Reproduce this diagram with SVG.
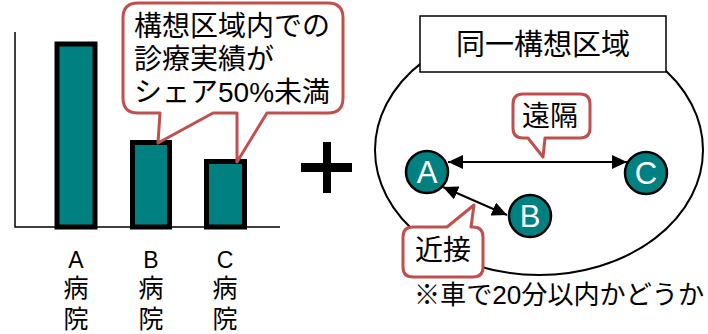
<svg xmlns="http://www.w3.org/2000/svg" width="708" height="334" viewBox="0 0 708 334">
<style>
.t{font-family:"Liberation Sans","Noto Sans CJK JP",sans-serif;fill:#000}
.bar{fill:#008080;stroke:#000;stroke-width:5}
.call{fill:#fff;stroke:#C0504D;stroke-width:3;stroke-linejoin:round}
.node{fill:#008080;stroke:#000;stroke-width:2.5}
.nl{font-family:"Liberation Sans","Noto Sans",sans-serif;fill:#fff;font-size:31px;text-anchor:middle}
.conn{stroke:#000;stroke-width:2;fill:none}
</style>
<defs>
<marker id="ah" viewBox="0 0 15 14" refX="15" refY="7" markerWidth="15" markerHeight="14" orient="auto-start-reverse" markerUnits="userSpaceOnUse"><path d="M0,0 L15,7 L0,14 Z" fill="#000"/></marker>
</defs>
<g id="chart">
<path d="M15,32 V227 H280" fill="none" stroke="#000" stroke-width="1.5"/>
<rect class="bar" x="57" y="44" width="38" height="183"/>
<rect class="bar" x="132.5" y="142.5" width="37" height="84.5"/>
<rect class="bar" x="206.5" y="161.5" width="38" height="65.5"/>
<g class="t" text-anchor="middle">
<text x="76" y="268" font-size="23">A</text>
<text x="76" y="297" font-size="25">病</text>
<text x="76" y="328" font-size="25">院</text>
<text x="151" y="268" font-size="23">B</text>
<text x="151" y="297" font-size="25">病</text>
<text x="151" y="328" font-size="25">院</text>
<text x="225" y="268" font-size="23">C</text>
<text x="225" y="297" font-size="25">病</text>
<text x="225" y="328" font-size="25">院</text>
</g>
</g>
<g id="share-callout">
<path class="call" d="M138,3 H328 Q343,3 343,18 V98 Q343,113 328,113 H267 L237,162 L237,113 H213 L158,143 L160,113 H138 Q123,113 123,98 V18 Q123,3 138,3 Z"/>
<g class="t" font-size="28">
<text x="134" y="36">構想区域内での</text>
<text x="134" y="69">診療実績が</text>
<text x="134" y="102">シェア50%未満</text>
</g>
</g>
<g id="plus">
<rect x="301" y="163" width="51" height="9" fill="#000"/>
<rect x="323" y="142" width="8" height="51" fill="#000"/>
</g>
<g id="region">
<ellipse cx="539" cy="150" rx="164" ry="125" fill="#fff" stroke="#000" stroke-width="2"/>
<rect x="420" y="16" width="246" height="56" fill="#fff" stroke="#000" stroke-width="1.5"/>
<text class="t" x="543" y="55" font-size="29" text-anchor="middle">同一構想区域</text>
</g>
<g id="connectors">
<line class="conn" x1="448" y1="162" x2="627" y2="162" marker-start="url(#ah)" marker-end="url(#ah)"/>
<line class="conn" x1="443" y1="187" x2="507" y2="215" marker-start="url(#ah)" marker-end="url(#ah)"/>
</g>
<g id="node-A"><circle class="node" cx="427" cy="172" r="21"/><text class="nl" x="427" y="183">A</text></g>
<g id="node-B"><circle class="node" cx="530" cy="216" r="21"/><text class="nl" x="530" y="227">B</text></g>
<g id="node-C"><circle class="node" cx="646" cy="173" r="21"/><text class="nl" x="646" y="184">C</text></g>
<g id="far-callout">
<path class="call" d="M523,94 H580 Q590,94 590,104 V128 Q590,138 580,138 H545 L543,157 L528,138 H523 Q513,138 513,128 V104 Q513,94 523,94 Z"/>
<text class="t" x="550" y="126" font-size="28" text-anchor="middle">遠隔</text>
</g>
<g id="near-callout">
<path class="call" d="M413,227 H447 L474,205 L471,227 H473 Q483,227 483,237 V267 Q483,277 473,277 H413 Q403,277 403,267 V237 Q403,227 413,227 Z"/>
<text class="t" x="443" y="260" font-size="28" text-anchor="middle">近接</text>
</g>
<g id="note">
<text class="t" x="414" y="304" font-size="26" textLength="290" lengthAdjust="spacingAndGlyphs">※車で20分以内かどうか</text>
</g>
</svg>
